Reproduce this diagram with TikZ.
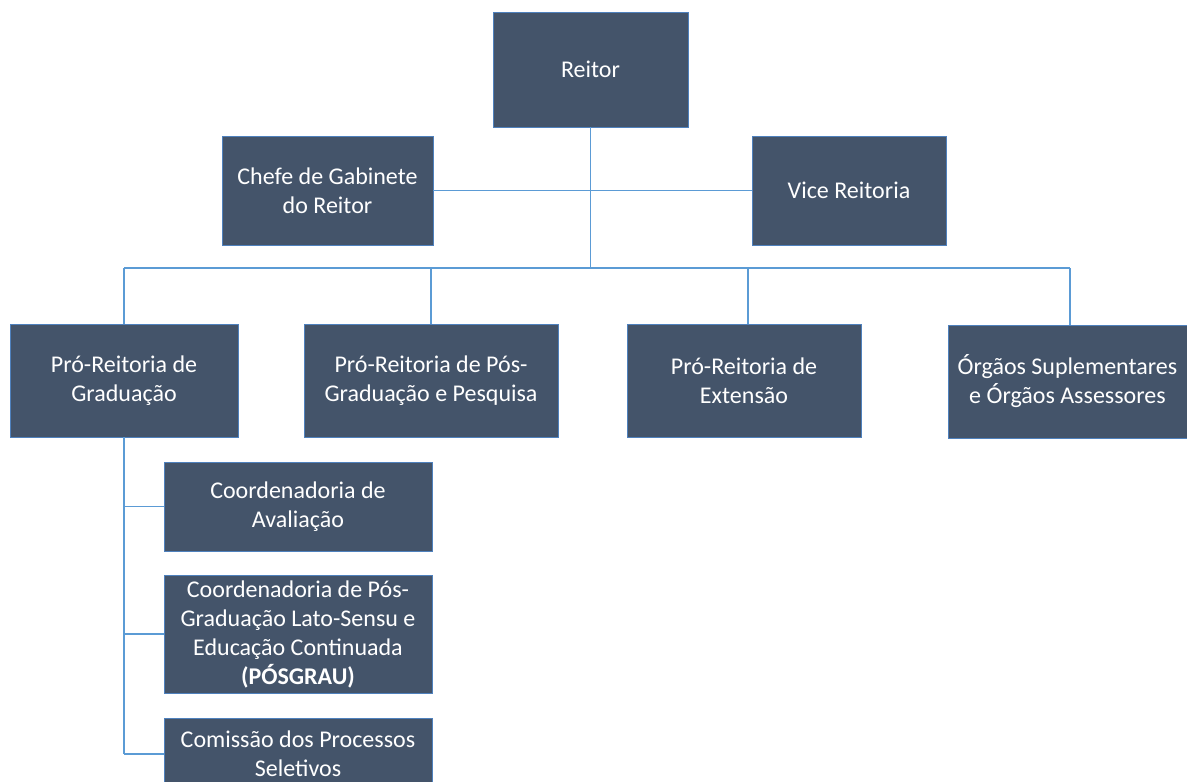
\documentclass[tikz,border=0pt]{standalone}
\usepackage{fontspec}
\setmainfont{Carlito}
\definecolor{boxfill}{HTML}{44546A}
\definecolor{boxedge}{HTML}{4F81BD}
\definecolor{linkc}{HTML}{5B9BD5}
\begin{document}
\begin{tikzpicture}[x=1pt,y=-1pt,
  orgbox/.style={rectangle, fill=boxfill, draw=boxedge, line width=0.8pt,
    text=white, align=center, inner sep=0pt,
    font=\fontsize{24}{29}\selectfont},
  link/.style={draw=linkc, line width=1.2pt}]
\useasboundingbox (0,0) rectangle (1187,782);
\clip (0,0) rectangle (1187,782);
\node[orgbox, minimum width=195pt, minimum height=115pt] (reitor) at (590.5,69.5) {Reitor};
\node[orgbox, minimum width=211pt, minimum height=109pt] (chefe) at (327.5,190.5) {Chefe de Gabinete\\do Reitor};
\node[orgbox, minimum width=194pt, minimum height=109pt] (vice) at (849,190.5) {Vice Reitoria};
\node[orgbox, minimum width=228pt, minimum height=113pt] (grad) at (124,380.5) {Pró-Reitoria de\\Graduação};
\node[orgbox, minimum width=254pt, minimum height=113pt] (pos) at (431,380.5) {Pró-Reitoria de Pós-\\Graduação e Pesquisa};
\node[orgbox, minimum width=234pt, minimum height=113pt] (ext) at (744,380.5) {Pró-Reitoria de\\Extensão};
\node[orgbox, minimum width=239pt, minimum height=113pt] (org) at (1067.5,381.5) {Órgãos Suplementares\\e Órgãos Assessores};
\node[orgbox, minimum width=268pt, minimum height=89pt] (sub1) at (298,506.5) {Coordenadoria de\\Avaliação};
\node[orgbox, minimum width=268pt, minimum height=118pt] (sub2) at (298,634) {Coordenadoria de Pós-\\Graduação Lato-Sensu e\\Educação Continuada\\\textbf{(PÓSGRAU)}};
\node[orgbox, minimum width=268pt, minimum height=72pt] (sub3) at (298,754) {Comissão dos Processos\\Seletivos};
\coordinate (hub) at (590.5,268);
\coordinate (extTop) at ([xshift=4pt]ext.north);
\coordinate (orgTop) at ([xshift=2.5pt]org.north);
% connectors
\draw[link] (reitor.south) -- (hub);
\draw[link] (chefe.east) -- (vice.west);
\draw[link] (grad.north |- hub) -- (orgTop |- hub);
\draw[link] (grad.north) -- (grad.north |- hub);
\draw[link] (pos.north) -- (pos.north |- hub);
\draw[link] (extTop) -- (extTop |- hub);
\draw[link] (orgTop) -- (orgTop |- hub);
\draw[link] (grad.south) -- (grad.south |- sub3.west);
\draw[link] (sub1.west) -- (sub1.west -| grad.south);
\draw[link] (sub2.west) -- (sub2.west -| grad.south);
\draw[link] (sub3.west) -- (sub3.west -| grad.south);
\end{tikzpicture}
\end{document}
